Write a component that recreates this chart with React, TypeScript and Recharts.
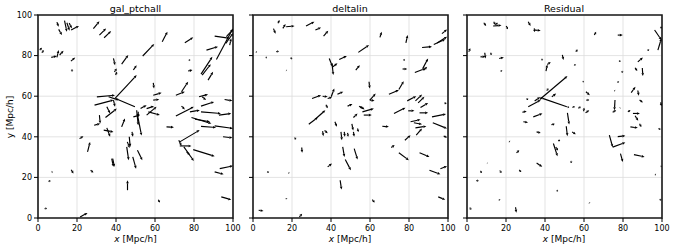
import React from 'react';
import {
    CartesianGrid,
    ReferenceArea,
    ReferenceLine,
    Scatter,
    ScatterChart,
    XAxis,
    YAxis,
} from 'recharts';

// each arrow: [x tail, y tail, x head, y head] in Mpc/h
const galArrows: number[][] = [
    [9.7, 96.5, 10.6, 94.2], [10.6, 92.9, 12.3, 90.1], [13.6, 97.2, 14.8, 91.8],
    [14.8, 96.2, 16.2, 92.3], [16, 96, 17.4, 93.4], [17, 92.6, 21, 94.6],
    [28.4, 93.3, 31.5, 96.9], [31.5, 90.1, 34.9, 93.4], [33.9, 88.8, 37.5, 92.1],
    [63.7, 86.8, 66.4, 91.8], [75.3, 86.3, 79.6, 89], [90.6, 89.6, 98.3, 88.5],
    [91.5, 78.1, 100, 93.4], [96.3, 86, 100, 91], [96.6, 89.3, 100, 92.9],
    [98.3, 85.2, 99.1, 88.5], [0.9, 82.7, 2, 83.9], [2, 81.4, 2.9, 82.7],
    [6.8, 79.1, 9.7, 79.8], [9.7, 79.1, 10.6, 82.7], [11.1, 80.3, 13.1, 82.4],
    [16.9, 77.3, 19.1, 79.1], [17.4, 73.2, 17.5, 72], [38.7, 78.6, 39.5, 75.3],
    [39.2, 72, 40.4, 73.7], [39.8, 70.4, 40.5, 72], [42.9, 75.8, 46.3, 80.3],
    [48.9, 72.9, 50.6, 75.3], [53.7, 79.8, 59.6, 85.7], [77.3, 77.6, 78.1, 78],
    [77, 72.4, 79.2, 72.9], [83.6, 70.9, 89.4, 79.4], [84.2, 70.4, 88.6, 75.8],
    [87.2, 67.9, 89.8, 72], [86.4, 82.7, 92.3, 84.4], [39.5, 58.9, 50.6, 70.4],
    [30.2, 59.7, 39.5, 60.5], [29, 55.6, 38.7, 58.1], [49.7, 54.8, 39.5, 58.9],
    [36.2, 59.7, 41.3, 58.1], [38.7, 58.1, 39.5, 54.8], [35.3, 54.8, 37, 51.5],
    [34.6, 49.5, 40.4, 53.9], [59.1, 66.6, 59.5, 63.8], [59.1, 60.5, 63.4, 61.7],
    [59.1, 58.1, 62.2, 58.4], [52.6, 53.9, 55.7, 55.6], [55.7, 53.9, 59.5, 55.1],
    [55.7, 50.7, 60.8, 54.8], [56.6, 52.3, 62.5, 50.7], [48.9, 49.8, 52.3, 50.7],
    [50.6, 53.1, 51.4, 45.7], [51.4, 52.3, 51.4, 49.8], [70.7, 60.5, 75.3, 62.2],
    [73.6, 62.2, 77, 67.1], [70.7, 50.2, 79.9, 54.8], [73.6, 55.1, 75.3, 53.5],
    [77.9, 52.3, 83, 53.1], [82.6, 59.7, 87.2, 60.9], [84.2, 59.7, 86.2, 58.1],
    [83.6, 55.1, 90.3, 57.2], [83.6, 52.3, 93.8, 51.5], [92.8, 50.7, 99.1, 51.5],
    [95.7, 58.4, 99.7, 57.7], [28.8, 45.7, 31.9, 46.5], [31.5, 50.7, 31.9, 46.5],
    [33.7, 43.3, 38.7, 42.4], [35.3, 44.4, 37, 40], [42.9, 44.9, 44.6, 49],
    [45.5, 35, 46.5, 28.5], [46.8, 40, 47.3, 35], [45.8, 37.5, 47, 34.5],
    [50.9, 51.3, 53.1, 40.6], [48.2, 42.4, 48.7, 40], [65.9, 44.9, 69.7, 44.7],
    [72.7, 37.5, 82.9, 43.3], [72.2, 38.3, 73.6, 35.5], [72.7, 35.5, 78.7, 35.5],
    [78.7, 49.5, 88.9, 46.5], [80.5, 48.7, 88.2, 47.4], [83.6, 45.1, 91.3, 44.6],
    [90.6, 45.4, 100, 44.1], [94.9, 40, 99.7, 39.5], [79.6, 33.7, 90.6, 30.4],
    [74.8, 35, 79.9, 28.1], [76.2, 32.6, 77.9, 31], [21.3, 39.1, 23.3, 40.3],
    [25.4, 32.6, 26.7, 37.5], [37.8, 29.3, 38.7, 25.2], [38.3, 29.3, 39.2, 25.2],
    [48.6, 30.1, 50.3, 24.3], [51, 33.4, 53.5, 28.5], [27, 23.5, 28.4, 22.4],
    [17, 23.8, 18.2, 21.9], [7, 22.6, 7.5, 22.8], [5.5, 17.8, 6.3, 18.6],
    [3.4, 4.6, 4.6, 4.8], [45.9, 13.7, 45.9, 18.6], [21.6, 0.5, 25.4, 2.5],
    [61.7, 9, 62.5, 7.6], [90.6, 22.7, 95.2, 21.5], [93.2, 24.3, 100, 25.7],
    [94, 10.4, 99.1, 9],
];

const deltaArrows: number[][] = [
    [10.5, 93.3, 11.6, 90.8], [12.8, 95.9, 13.6, 97.5], [15.3, 93.4, 16.7, 95.6],
    [17, 94.2, 21.3, 94.6], [27.2, 94.6, 31.5, 96.7], [32, 92.6, 34.9, 93.9],
    [36.2, 89.6, 38.6, 92.3], [65.1, 89, 66, 91.8], [78.4, 86.3, 79.3, 90.1],
    [86.7, 84, 91.8, 84.4], [92.7, 85.5, 98.6, 88], [94.4, 86.2, 99.5, 89.3],
    [96.9, 90.8, 99.5, 92.9], [54, 81.6, 59.5, 85.2], [1.5, 81.9, 2, 81.6],
    [6.5, 79.2, 7.2, 79], [11.9, 81.9, 13.3, 82.2], [19.5, 79.1, 19.8, 78.1],
    [17, 72.8, 17.3, 72.6], [39.1, 78.6, 40.8, 74.5], [40.5, 76.2, 41.2, 70.4],
    [41, 74.5, 43.3, 76.2], [44.2, 78.1, 48.1, 79.8], [52.7, 72.9, 54.8, 75.3],
    [77.2, 78.1, 77.9, 77.6], [76.7, 73.4, 79.1, 73.4], [83, 71.7, 88.4, 73.7],
    [87.1, 73.7, 89.8, 78.6], [87.6, 72.9, 89.3, 74.5], [59.5, 67.1, 59.9, 63.8],
    [59.9, 58.1, 62.9, 61.3], [59.9, 58.1, 62.3, 57.7], [69.7, 61, 74.8, 63],
    [74.8, 63.3, 77.3, 67.4], [30.3, 58.9, 34.9, 60.5], [35.7, 60, 38.3, 59.7],
    [38.3, 58.9, 40.5, 59.5], [40.1, 59.7, 41.7, 63.8], [43.3, 61, 46.3, 62.2],
    [48.5, 55.1, 51, 56.1], [51.5, 49.5, 53.6, 51.5], [54.4, 55.1, 56.1, 54],
    [56.1, 52.3, 62, 53.9], [56.8, 50.7, 60.9, 50.7], [55.1, 54.9, 57.2, 53.5],
    [28.6, 46.2, 33.2, 49.5], [32.3, 49, 37.1, 53.1], [37.4, 55.8, 38.3, 54.1],
    [42, 47.4, 43, 44.9], [72.3, 51.5, 78.2, 54.3], [79.1, 57.7, 83.7, 60],
    [83.3, 57.7, 86.7, 60.8], [84.7, 56.7, 87.9, 59.7], [85.9, 54.4, 89.8, 56.7],
    [79.6, 52.8, 82.8, 52.8], [85.4, 51.8, 89.8, 51.8], [91.8, 49.8, 99, 51.2],
    [80.8, 47.4, 85.9, 48.5], [82.5, 46.9, 86.7, 46.2], [83.3, 44.4, 88.9, 45.2],
    [83.7, 40.8, 86.7, 44.1], [77.9, 38.3, 80.8, 40.8], [92.2, 46.9, 99.5, 44.1],
    [97.8, 40.4, 99.5, 39.6], [66.3, 45.2, 69.7, 44.9], [35.7, 42.8, 36.1, 40.3],
    [36.7, 43.1, 38.3, 41.8], [45.1, 42.4, 45.6, 38.3], [46.8, 42.4, 47.1, 40],
    [48.5, 41.9, 48.8, 40], [50.7, 46.4, 51.4, 43.1], [51.5, 42.4, 51.9, 40],
    [53.6, 44.1, 54.1, 42.4], [46, 35, 46.9, 30.1], [51.9, 34.2, 53.6, 28.8],
    [47.3, 28.8, 50.2, 23.5], [21.3, 39.6, 22.1, 38.7], [25, 34.7, 25.2, 32.1],
    [70.9, 34.7, 72.6, 35.9], [74.8, 32.1, 79.9, 28.5], [85.4, 32.1, 90.5, 30.1],
    [38.3, 25.2, 40.5, 26.8], [90.5, 23.5, 96.1, 21.5], [96.1, 24.3, 99.5, 25.5],
    [7.5, 23, 7.9, 22.2], [18.2, 22.3, 18.6, 22.1], [44.7, 18.6, 45.4, 14],
    [61.2, 9, 62.4, 7.6], [95, 10.4, 98.6, 9], [2.9, 3.8, 5.4, 3.5],
    [17, 9.8, 17.2, 9.2], [23.8, 0.5, 25.2, 2.1], [98.2, 56.8, 99.2, 56.2],
];

const residArrows: number[][] = [
    [8.6, 96.2, 9.8, 94.6], [13.7, 96.7, 14.6, 95.1], [14.6, 95.1, 15.8, 96.2],
    [13.4, 94.6, 17.7, 94.9], [20.1, 94.6, 21, 93], [31.4, 96.7, 32.6, 94.6],
    [34.7, 92.6, 37.8, 92.3], [34.5, 93.4, 34.7, 91.6], [65.3, 90.1, 66.2, 91.8],
    [77.3, 90.1, 79.9, 90.1], [96.2, 92.6, 99.7, 87.7], [97.9, 82.7, 99.7, 88.5],
    [99.3, 94.2, 99.7, 93.4], [92.8, 83.1, 93.1, 82.3], [0.9, 81.9, 1.7, 83.6],
    [6.9, 79.4, 9.5, 79.4], [9.1, 81.4, 9.5, 78.6], [12.1, 81.4, 12.6, 80.3],
    [16.5, 78.6, 18.9, 79.1], [17.5, 72.8, 17.7, 72], [38.3, 78.4, 38.7, 77.6],
    [40.5, 72.4, 41.2, 75.6], [41.2, 75.6, 42.9, 76.9], [48.9, 80.3, 49.5, 77.8],
    [55.2, 75.8, 55.5, 75], [55.8, 81.9, 56.7, 83], [59.3, 67.1, 60, 67.3],
    [61, 62.2, 63, 60.5], [61.2, 58.1, 62.7, 58.1], [60.8, 51.8, 62.7, 53.1],
    [75.6, 62.8, 75.9, 62.6], [78.1, 77.6, 78.6, 76.8], [79.4, 72.4, 79.9, 71.5],
    [77.3, 67.3, 77.7, 66.6], [84.2, 61.8, 86.4, 64.6], [87.6, 62.8, 88.1, 60.2],
    [88.5, 58.1, 90.2, 56.9], [89.9, 73.9, 90.2, 69.9], [87.6, 76.9, 90.2, 79.1],
    [86.2, 74, 87.3, 72.4], [75.9, 58.1, 75.6, 53.1], [74.7, 52.1, 76.5, 53.1],
    [78.4, 54.1, 78.6, 54.3], [82.5, 52.3, 83.8, 53.1], [85.1, 51.5, 88.7, 51.5],
    [86.2, 50.4, 87.8, 47.9], [83.8, 44.9, 87.6, 44.4], [88.5, 46.4, 89.4, 44.8],
    [98.2, 44.1, 99.3, 43.6], [99.3, 56.9, 99.7, 55.2], [73, 40.8, 74.7, 34.9],
    [74.7, 34.9, 81.2, 37.2], [77.3, 40.1, 81.2, 40.5], [78.7, 31.7, 79.9, 27.6],
    [85.6, 31.2, 91.1, 30.1], [37.3, 58.4, 51.5, 69.9], [51.2, 54.8, 37.3, 59.4],
    [31.4, 54.8, 37.8, 58.1], [34.7, 57.6, 37.5, 59.6], [34, 49.8, 38.7, 51.5],
    [30.6, 58.9, 31.3, 58.1], [40.9, 62.8, 41.8, 63.8], [43.5, 59.7, 45.7, 61.3],
    [28.4, 52.1, 30.6, 52.6], [28.9, 47.4, 31.3, 47.1], [35.7, 42.4, 37.8, 41.9],
    [43.3, 45.9, 45, 46.4], [44.3, 36.7, 46.4, 30.4], [45.5, 34.9, 46.7, 33.2],
    [46.7, 38.3, 47.8, 38], [51.5, 51.8, 52.4, 46.1], [50.9, 45.2, 51.5, 40.3],
    [53.9, 42.4, 55.8, 41.3], [51.5, 54.8, 52.4, 54.4], [54.1, 54.4, 55.3, 55.1],
    [57.1, 54.1, 58.4, 54.8], [59.8, 52.6, 60.1, 54.3], [25.4, 32.1, 26.8, 33.4],
    [35.7, 27.1, 38.6, 25.2], [26.8, 23.7, 27.8, 22.6], [16.8, 23.4, 17.7, 22.2],
    [6.9, 23.2, 7.6, 22.2], [4.8, 18.4, 6, 18.4], [46, 13.7, 46.7, 13.2],
    [53.3, 28.1, 53.6, 27.1], [16.5, 9.2, 16.8, 8.6], [1.4, 5.1, 2.2, 4.1],
    [24.9, 5.3, 25.3, 2.6], [62.7, 7.6, 62.9, 7.3], [96.4, 21.5, 96.9, 21.2],
    [98.8, 9.2, 99.7, 8.7], [99.3, 25.5, 99.7, 25.5], [21.6, 37.8, 22, 37.5],
    [10.3, 27.1, 10.5, 27],
];

const axisTicks = [0, 20, 40, 60, 80, 100];
const titles = ['gal_ptchall', 'deltalin', 'Residual'];

const FONT = '"DejaVu Sans", sans-serif';

const Arrow = (props: any) => {
    const { x1, y1, x2, y2 } = props;
    const dx = x2 - x1;
    const dy = y2 - y1;
    const len = Math.hypot(dx, dy) || 1;
    const ux = dx / len;
    const uy = dy / len;
    const hl = Math.min(3, len * 0.6);
    const hw = 1.3;
    const bx = x2 - ux * hl;
    const by = y2 - uy * hl;
    return (
        <g>
            <line x1={x1} y1={y1} x2={bx} y2={by} stroke="#000" strokeWidth={1.15} />
            <polygon
                points={`${x2},${y2} ${bx - uy * hw},${by + ux * hw} ${bx + uy * hw},${by - ux * hw}`}
                fill="#000"
            />
        </g>
    );
};

type PanelProps = { arrows: number[][]; left: number; showY: boolean };

const Panel = ({ arrows, left, showY }: PanelProps) => {
    const tails = arrows.map((a) => ({ x: a[0], y: a[1] }));
    return (
        <div style={{ position: 'absolute', left, top: 0 }}>
            <ScatterChart
                width={245}
                height={249}
                margin={{ top: 15, right: 12, bottom: 11, left: 8 }}
            >
                <CartesianGrid stroke="#dcdcdc" strokeWidth={0.8} />
                <XAxis
                    type="number"
                    dataKey="x"
                    domain={[0, 100]}
                    ticks={axisTicks}
                    height={20}
                    tickSize={4}
                    tickMargin={3}
                    axisLine={false}
                    interval={0}
                    tickLine={{ stroke: '#000' }}
                    tick={{ fill: '#000', fontSize: 8, fontFamily: FONT }}
                />
                <YAxis
                    type="number"
                    dataKey="y"
                    domain={[0, 100]}
                    ticks={axisTicks}
                    width={30}
                    tickSize={4}
                    tickMargin={2}
                    axisLine={false}
                    interval={0}
                    tickLine={{ stroke: '#000' }}
                    tickFormatter={(v: number) => (showY ? String(v) : '')}
                    tick={{ fill: '#000', fontSize: 8, fontFamily: FONT }}
                />
                <Scatter data={tails} shape={() => <g />} isAnimationActive={false} />
                {arrows.map((a, i) => (
                    <ReferenceLine
                        key={i}
                        segment={[
                            { x: a[0], y: a[1] },
                            { x: a[2], y: a[3] },
                        ]}
                        ifOverflow="visible"
                        shape={Arrow}
                    />
                ))}
                <ReferenceArea
                    x1={0}
                    x2={100}
                    y1={0}
                    y2={100}
                    fill="none"
                    stroke="#1a1a1a"
                    strokeWidth={1.6}
                    ifOverflow="visible"
                />
            </ScatterChart>
        </div>
    );
};

const panelLefts = [0, 214.5, 428.5];

export default function App() {
    return (
        <div
            style={{
                position: 'absolute',
                left: 0,
                top: 0,
                width: 674,
                height: 249,
                background: '#fff',
                fontFamily: FONT,
            }}
        >
            <Panel arrows={galArrows} left={panelLefts[0]} showY />
            <Panel arrows={deltaArrows} left={panelLefts[1]} showY={false} />
            <Panel arrows={residArrows} left={panelLefts[2]} showY={false} />
            <svg
                width={674}
                height={249}
                style={{ position: 'absolute', left: 0, top: 0, pointerEvents: 'none' }}
            >
                {titles.map((t, i) => (
                    <text
                        key={t}
                        x={panelLefts[i] + 38 + 97.5}
                        y={11.5}
                        textAnchor="middle"
                        fontSize={9.5}
                        fontFamily={FONT}
                    >
                        {t}
                    </text>
                ))}
                {panelLefts.map((l) => (
                    <text
                        key={l}
                        x={l + 38 + 97.5}
                        y={242}
                        textAnchor="middle"
                        fontSize={9}
                        fontFamily={FONT}
                    >
                        <tspan fontStyle="italic">x</tspan> [Mpc/h]
                    </text>
                ))}
                <text
                    x={13}
                    y={117}
                    textAnchor="middle"
                    fontSize={9}
                    fontFamily={FONT}
                    transform="rotate(-90 13 117)"
                >
                    y [Mpc/h]
                </text>
            </svg>
        </div>
    );
}
